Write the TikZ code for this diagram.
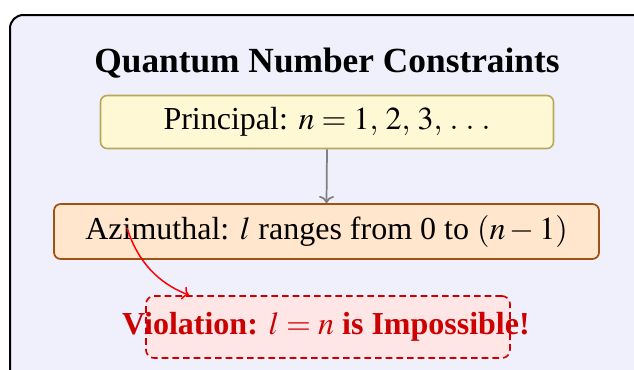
\documentclass[tikz,border=0pt]{standalone}
\usepackage{mathptmx}
\usepackage[no-math]{fontspec}
\setmainfont{Liberation Serif}
\usetikzlibrary{arrows.meta}
\definecolor{outerfill}{RGB}{240,240,252}
\definecolor{prinfill}{RGB}{255,248,213}
\definecolor{prinborder}{RGB}{183,168,90}
\definecolor{azifill}{RGB}{255,230,204}
\definecolor{aziborder}{RGB}{160,82,20}
\definecolor{violfill}{RGB}{255,230,230}
\definecolor{violred}{RGB}{204,0,0}
\tikzset{
  bodyfont/.style={font=\fontsize{24}{28}\selectfont},
  prinbox/.style={draw=prinborder, fill=prinfill, line width=1.2pt, rounded corners=5pt,
    minimum width=339.75pt, minimum height=39.75pt, inner sep=0pt, bodyfont},
  azibox/.style={draw=aziborder, fill=azifill, line width=1.3pt, rounded corners=5pt,
    minimum width=408.75pt, minimum height=41.25pt, inner sep=0pt, bodyfont},
  violbox/.style={draw=violred, fill=violfill, line width=1.2pt, rounded corners=6pt,
    dash pattern=on 5pt off 3pt, minimum width=273pt, minimum height=46.5pt, inner sep=0pt},
  violtext/.style={text=violred, font=\fontsize{24}{28}\selectfont\bfseries, inner sep=0pt},
  titletext/.style={font=\fontsize{26.5}{30}\selectfont\bfseries, inner sep=0pt},
  grayarrow/.style={-{To[scale=1.2]}, draw=gray, line width=1.3pt},
  redarrow/.style={-{To[scale=1.2]}, draw=red, line width=1.1pt},
}
\begin{document}
\begin{tikzpicture}[x=0.75pt, y=-0.75pt]
\useasboundingbox (0,0) rectangle (634,369);
\clip (0,0) rectangle (634,369);
\draw[fill=outerfill, line width=1.5pt, rounded corners=10pt] (10,15) rectangle (660,385);
\node[titletext] (title) at (327,63) {Quantum Number Constraints};
\node[prinbox] (prin) at (327,122) {Principal: {\thinmuskip=4mu $n = 1, 2, 3, \ldots$}};
\node[azibox] (azi) at (326.5,231.5) {Azimuthal: $l$ ranges from 0 to $(n-1)$};
\node[violbox] (vbox) at (328,327) {};
\node[violtext] (vtext) at (326,327) {Violation: $l = n$ is Impossible!};
\coordinate (redstart) at (127,228);
\coordinate (redend) at ([xshift=33pt]vbox.north west);
\draw[grayarrow] (prin.south) -- (azi.north);
\draw[redarrow] (redstart) .. controls (138,262) and (158,283) .. (redend);
\end{tikzpicture}
\end{document}
